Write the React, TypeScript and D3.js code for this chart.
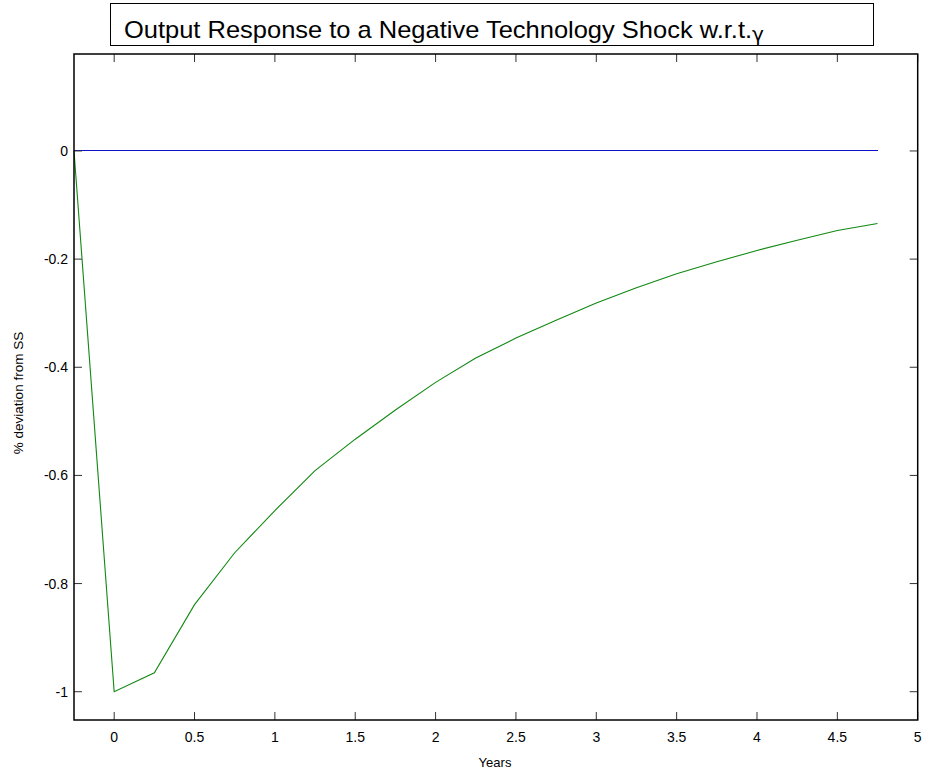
import React from "react";
import * as d3 from "d3";

const years = [-0.25, 0, 0.25, 0.5, 0.75, 1, 1.25, 1.5, 1.75, 2, 2.25, 2.5, 2.75, 3, 3.25, 3.5, 3.75, 4, 4.25, 4.5, 4.75];
const outputResponse = [0, -1, -0.965, -0.839, -0.743, -0.665, -0.591, -0.533, -0.479, -0.428, -0.383, -0.346, -0.313, -0.281, -0.253, -0.227, -0.205, -0.184, -0.165, -0.147, -0.134];
const zeroLine = [0, 0, 0, 0, 0, 0, 0, 0, 0, 0, 0, 0, 0, 0, 0, 0, 0, 0, 0, 0, 0];
const xTicks = [0, 0.5, 1, 1.5, 2, 2.5, 3, 3.5, 4, 4.5, 5];
const yTicks = [0, -0.2, -0.4, -0.6, -0.8, -1];

const W = 931, H = 782;
const L = 74, R = 917.7, T = 54, B = 720;
const FONT = "'Liberation Sans', Arial, sans-serif";

export default function App() {
  const x = d3.scaleLinear().domain([-0.25, 5]).range([L, R]);
  const y = d3.scaleLinear().domain([-1.0523, 0.1793]).range([B, T]);
  const line = d3.line<number>().x((_, i) => x(years[i])).y((d) => y(d));
  const tick = 8;
  return (
    <svg width={W} height={H} style={{ position: "absolute", left: 0, top: 0, background: "#fff" }}>
      <rect x={0} y={0} width={W} height={H} fill="#fff" />
      {/* title box */}
      <rect x={110.5} y={3.5} width={763} height={42} fill="#fff" stroke="#000" strokeWidth={1} />
      <text x={124} y={38} fontFamily={FONT} fontSize={24} fill="#000" textLength={640} lengthAdjust="spacingAndGlyphs">
        Output Response to a Negative Technology Shock w.r.t.<tspan fontFamily="'DejaVu Sans', sans-serif" fontSize={19} dy={3}>γ</tspan>
      </text>
      {/* data */}
      <path d={line(zeroLine) || ""} fill="none" stroke="#1010c8" strokeWidth={1} shapeRendering="crispEdges" />
      <path d={line(outputResponse) || ""} fill="none" stroke="#118811" strokeWidth={1.1} />
      {/* ticks */}
      {xTicks.map((t) => (
        <g key={"x" + t}>
          <line x1={x(t)} x2={x(t)} y1={B} y2={B - tick} stroke="#333" strokeWidth={1} />
          <line x1={x(t)} x2={x(t)} y1={T} y2={T + tick} stroke="#333" strokeWidth={1} />
          <text x={x(t)} y={742} textAnchor="middle" fontFamily={FONT} fontSize={14} fill="#000">{t}</text>
        </g>
      ))}
      {yTicks.map((t) => (
        <g key={"y" + t}>
          <line x1={L} x2={L + tick} y1={y(t)} y2={y(t)} stroke="#333" strokeWidth={1} />
          <line x1={R} x2={R - tick} y1={y(t)} y2={y(t)} stroke="#333" strokeWidth={1} />
          <text x={68} y={y(t) + 5} textAnchor="end" fontFamily={FONT} fontSize={14} fill="#000">{t}</text>
        </g>
      ))}
      {/* axes box */}
      <rect x={L} y={T} width={R - L} height={B - T} fill="none" stroke="#000" strokeWidth={1.5} />
      {/* labels */}
      <text x={495} y={767} textAnchor="middle" fontFamily={FONT} fontSize={13} fill="#000">Years</text>
      <text transform={`translate(23, 393) rotate(-90)`} textAnchor="middle" fontFamily={FONT} fontSize={13.5} fill="#000">% deviation from SS</text>
    </svg>
  );
}
